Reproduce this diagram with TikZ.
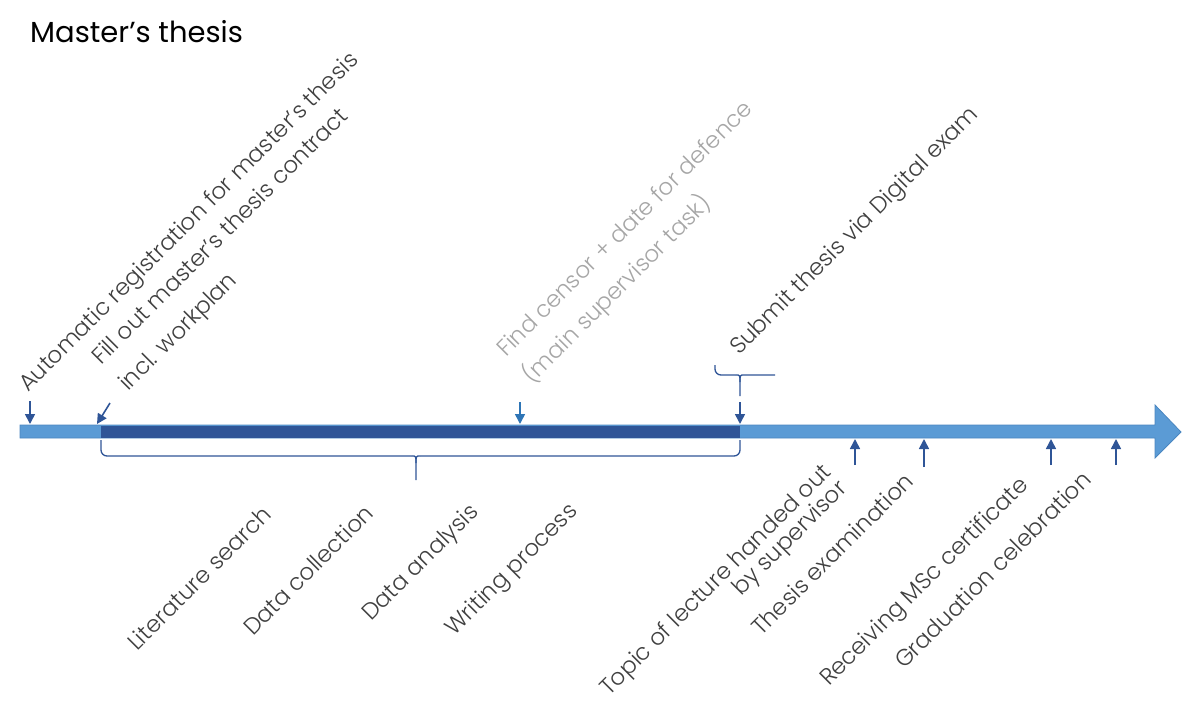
\documentclass[tikz,border=0pt]{standalone}
\usepackage{fontspec}
\IfFontExistsTF{Poppins Light}{\setmainfont{Poppins Light}}{\setmainfont{Poppins}}
\newfontfamily\titlefont{Poppins}
\usetikzlibrary{arrows.meta}
\begin{document}
\begin{tikzpicture}[x=1pt,y=-1pt,
  lbl/.style={rotate=45,anchor=base west,inner sep=0pt,text=labelgray,font=\fontsize{23}{27}\selectfont},
  faint/.style={lbl,text=fadegray},
  darr/.style={draw=barblue,line width=1.6pt,-{Triangle[length=10pt,width=10pt]}},
  brace/.style={draw=barblue,line width=1.3pt}
]
\definecolor{barblue}{HTML}{2F5597}
\definecolor{lightblue}{HTML}{5B9BD5}
\definecolor{edgeblue}{HTML}{4A86C0}
\definecolor{midblue}{HTML}{2E75B6}
\definecolor{labelgray}{HTML}{404040}
\definecolor{fadegray}{HTML}{A6A6A6}
\useasboundingbox (0,0) rectangle (1200,718);
% title
\node[anchor=base west,inner sep=0pt,font=\titlefont\fontsize{29}{34}\selectfont] (title) at (30,42) {Master’s thesis};
% timeline bar
\filldraw[fill=lightblue,draw=edgeblue,line width=0.8pt] (20,425) -- (1155,425) -- (1155,405) -- (1181,432) -- (1155,458) -- (1155,438) -- (20,438) -- cycle;
\fill[barblue] (101,425.5) rectangle (740,437.5);
% points on the bar
\coordinate (p1) at (30,424);
\coordinate (p2) at (97,424);
\coordinate (p3) at (520,424);
\coordinate (p4) at (740,424);
\coordinate (q1) at (855,439);
\coordinate (q2) at (924,439);
\coordinate (q3) at (1051,439);
\coordinate (q4) at (1116,439);
\coordinate (s1) at (30,401);
\coordinate (s2) at (110,403);
\coordinate (s3) at (520,402);
\coordinate (s4) at (740,402);
\coordinate (t1) at (855,465);
\coordinate (t2) at (924,467);
\coordinate (t3) at (1051,465);
\coordinate (t4) at (1116,465);
\draw[darr] (s1) -- (p1);
\draw[darr] (s2) -- (p2);
\draw[darr,draw=midblue] (s3) -- (p3);
\draw[darr] (s4) -- (p4);
\draw[darr] (t1) -- (q1);
\draw[darr] (t2) -- (q2);
\draw[darr] (t3) -- (q3);
\draw[darr] (t4) -- (q4);
% lower brace
\draw[brace,rounded corners=6pt] (101,440) -- (101,456) -- (412,456);
\draw[brace] (412,456) .. controls (416,456) .. (416,463) -- (416,480);
\draw[brace] (416,463) .. controls (416,456) .. (420,456);
\draw[brace,rounded corners=6pt] (420,456) -- (740,456) -- (740,440);
% upper brace
\draw[brace,rounded corners=6pt] (715,365) -- (715,375) -- (736,375);
\draw[brace] (736,375) .. controls (740,375) .. (740,382) -- (740,396);
\draw[brace] (740,382) .. controls (740,375) .. (744,375) -- (775,375);
% labels above
\node[lbl] (l1) at (28,393) {Automatic registration for master’s thesis};
\node[lbl] (l2a) at (101,366) {Fill out master’s thesis contract};
\node[lbl] (l2b) at (128,392) {incl. workplan};
\node[faint] (l3a) at (506,358) {Find censor + date for defence};
\node[faint] (l3b) at (532,385) {(main supervisor task)};
\node[lbl] (l4) at (739,356) {Submit thesis via Digital exam};
% labels below
\node[lbl] (b1) at (137,652) {Literature search};
\node[lbl] (b2) at (253,637) {Data collection};
\node[lbl] (b3) at (371,622) {Data analysis};
\node[lbl] (b4) at (454,637) {Writing process};
\node[lbl] (b5a) at (609,697) {Topic of lecture handed out};
\node[lbl] (b5b) at (741,597) {by supervisor};
\node[lbl] (b6) at (761,637) {Thesis examination};
\node[lbl] (b7) at (829,687) {Receiving MSc certificate};
\node[lbl] (b8) at (904,670) {Graduation celebration};
\end{tikzpicture}
\end{document}
